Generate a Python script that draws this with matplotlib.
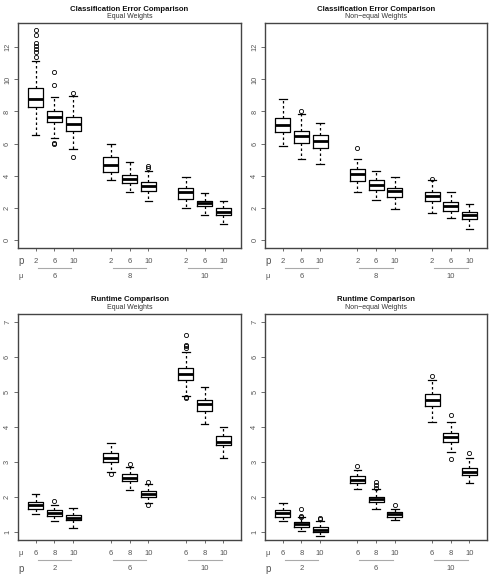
import matplotlib
matplotlib.use("Agg")
import matplotlib.pyplot as plt

plt.rcParams['font.family'] = ['Liberation Sans', 'DejaVu Sans']

# box stats: (whislo, q1, med, q3, whishi, [outliers])
err_equal = [
    (6.50, 8.26, 8.76, 9.45, 11.15, [11.4, 11.7, 11.9, 12.1, 12.25, 12.77, 13.08]),
    (6.33, 7.33, 7.68, 8.05, 8.93, [10.44, 9.65, 6.06, 5.96]),
    (5.65, 6.75, 7.22, 7.68, 8.99, [9.16, 5.13]),
    (3.70, 4.21, 4.63, 5.15, 5.96, []),
    (2.95, 3.53, 3.78, 4.03, 4.82, []),
    (2.41, 3.05, 3.32, 3.57, 4.26, [4.57, 4.46]),
    (1.97, 2.55, 2.97, 3.20, 3.90, []),
    (1.54, 2.08, 2.30, 2.43, 2.91, []),
    (1.00, 1.54, 1.74, 1.97, 2.43, []),
]
err_nonequal = [
    (5.85, 6.71, 7.16, 7.62, 8.76, []),
    (5.04, 6.06, 6.48, 6.81, 7.83, [8.03]),
    (4.71, 5.71, 6.14, 6.56, 7.31, []),
    (2.99, 3.67, 4.09, 4.38, 5.04, [5.75]),
    (2.47, 3.09, 3.38, 3.72, 4.30, []),
    (1.89, 2.64, 3.05, 3.22, 3.88, []),
    (1.64, 2.41, 2.72, 2.95, 3.72, [3.80]),
    (1.35, 1.81, 2.10, 2.35, 2.97, []),
    (0.69, 1.31, 1.56, 1.74, 2.24, []),
]
rt_equal = [
    (1.51, 1.66, 1.75, 1.84, 2.09, []),
    (1.29, 1.45, 1.53, 1.61, 1.77, [1.88]),
    (1.11, 1.33, 1.40, 1.49, 1.67, []),
    (2.70, 3.00, 3.12, 3.25, 3.54, [2.66]),
    (2.20, 2.44, 2.53, 2.65, 2.84, [2.94]),
    (1.81, 1.99, 2.08, 2.16, 2.36, [2.41, 1.77]),
    (4.89, 5.35, 5.51, 5.69, 6.14, [6.63, 6.34, 6.31, 6.27, 4.86, 4.82]),
    (4.09, 4.45, 4.67, 4.77, 5.14, []),
    (3.11, 3.48, 3.57, 3.73, 4.01, []),
]
rt_nonequal = [
    (1.29, 1.42, 1.54, 1.63, 1.83, []),
    (1.03, 1.13, 1.21, 1.27, 1.41, [1.65, 1.46, 1.43]),
    (0.88, 1.00, 1.06, 1.13, 1.29, [1.40, 1.35]),
    (2.22, 2.39, 2.49, 2.59, 2.77, [2.87]),
    (1.65, 1.84, 1.93, 2.00, 2.23, [2.41, 2.35, 2.25]),
    (1.33, 1.43, 1.51, 1.57, 1.65, [1.75]),
    (4.15, 4.59, 4.78, 4.94, 5.35, [5.45]),
    (3.27, 3.56, 3.72, 3.83, 4.13, [4.33, 3.09]),
    (2.39, 2.62, 2.72, 2.82, 3.11, [3.25]),
]

err_inner = ['2', '6', '10']   # p
err_outer = ['6', '8', '10']   # mu
rt_inner = ['6', '8', '10']    # mu
rt_outer = ['2', '6', '10']    # p

positions = [1, 2, 3, 5, 6, 7, 9, 10, 11]
grey = '#555555'
name_size = {'p': 7, 'μ': 5.5}


def panel(rect, data, title, subtitle, ylim, yticks, inner, outer, inner_name, outer_name):
    ax = fig.add_axes(rect)
    stats = []
    for lo, q1, med, q3, hi, fl in data:
        stats.append(dict(whislo=lo, q1=q1, med=med, q3=q3, whishi=hi, fliers=fl))
    ax.bxp(stats, positions=positions, widths=0.8, showfliers=True,
           boxprops=dict(color='black', linewidth=0.9),
           medianprops=dict(color='black', linewidth=2.0),
           whiskerprops=dict(color='black', linewidth=0.9, linestyle=(0, (2, 2))),
           capprops=dict(color='black', linewidth=0.9),
           capwidths=0.4,
           flierprops=dict(marker='o', markersize=3.0, markerfacecolor='none',
                           markeredgecolor='black', markeredgewidth=0.6))
    pad = (ylim[1] - ylim[0]) * 0.04
    ax.set_ylim(ylim[0] - pad, ylim[1] + pad)
    ax.set_xlim(0.06, 11.94)
    ax.set_yticks(yticks)
    ax.set_yticklabels([str(t) for t in yticks], rotation=90, va='center')
    ax.set_xticks(positions)
    ax.set_xticklabels([])
    ax.tick_params(axis='y', length=3, width=0.6, color=grey, labelcolor=grey, labelsize=5.3, pad=2)
    ax.tick_params(axis='x', length=2.5, width=0.6, color=grey)
    for s in ax.spines.values():
        s.set_color('#444444')
        s.set_linewidth(1.0)

    tr = ax.get_xaxis_transform()
    for i, x in enumerate(positions):
        ax.text(x, -0.058, inner[i % 3], transform=tr, ha='center', va='center',
                fontsize=5.5, color=grey)
    for g in range(3):
        c = positions[g * 3 + 1]
        ax.plot([c - 0.9, c + 0.9], [-0.089, -0.089], transform=tr, color='#aaaaaa',
                linewidth=0.8, clip_on=False)
        ax.text(c, -0.128, outer[g], transform=tr, ha='center', va='center',
                fontsize=5.5, color=grey)
    ax.text(0.012, -0.058, inner_name, transform=ax.transAxes, ha='center', va='center',
            fontsize=name_size[inner_name], color=grey)
    ax.text(0.012, -0.128, outer_name, transform=ax.transAxes, ha='center', va='center',
            fontsize=name_size[outer_name], color=grey)
    ax.text(0.5, 1.062, title, transform=ax.transAxes, ha='center', va='center',
            fontsize=5.6, fontweight='bold', color='#111111')
    ax.text(0.5, 1.027, subtitle, transform=ax.transAxes, ha='center', va='center',
            fontsize=5.0, color='#333333')
    return ax


fig = plt.figure(figsize=(4.92, 5.83), dpi=100)

panel([0.0366, 0.5746, 0.4533, 0.386], err_equal, 'Classification Error Comparison',
      'Equal Weights', (0, 13), [0, 2, 4, 6, 8, 10, 12], err_inner, err_outer, 'p', 'μ')
panel([0.5392, 0.5746, 0.4506, 0.386], err_nonequal, 'Classification Error Comparison',
      'Non\u2212equal Weights', (0, 13), [0, 2, 4, 6, 8, 10, 12], err_inner, err_outer, 'p', 'μ')
panel([0.0366, 0.0738, 0.4533, 0.3877], rt_equal, 'Runtime Comparison',
      'Equal Weights', (1, 7), [1, 2, 3, 4, 5, 6, 7], rt_inner, rt_outer, 'μ', 'p')
panel([0.5392, 0.0738, 0.4506, 0.3877], rt_nonequal, 'Runtime Comparison',
      'Non\u2212equal Weights', (1, 7), [1, 2, 3, 4, 5, 6, 7], rt_inner, rt_outer, 'μ', 'p')

fig.savefig('out.png', dpi=100)
